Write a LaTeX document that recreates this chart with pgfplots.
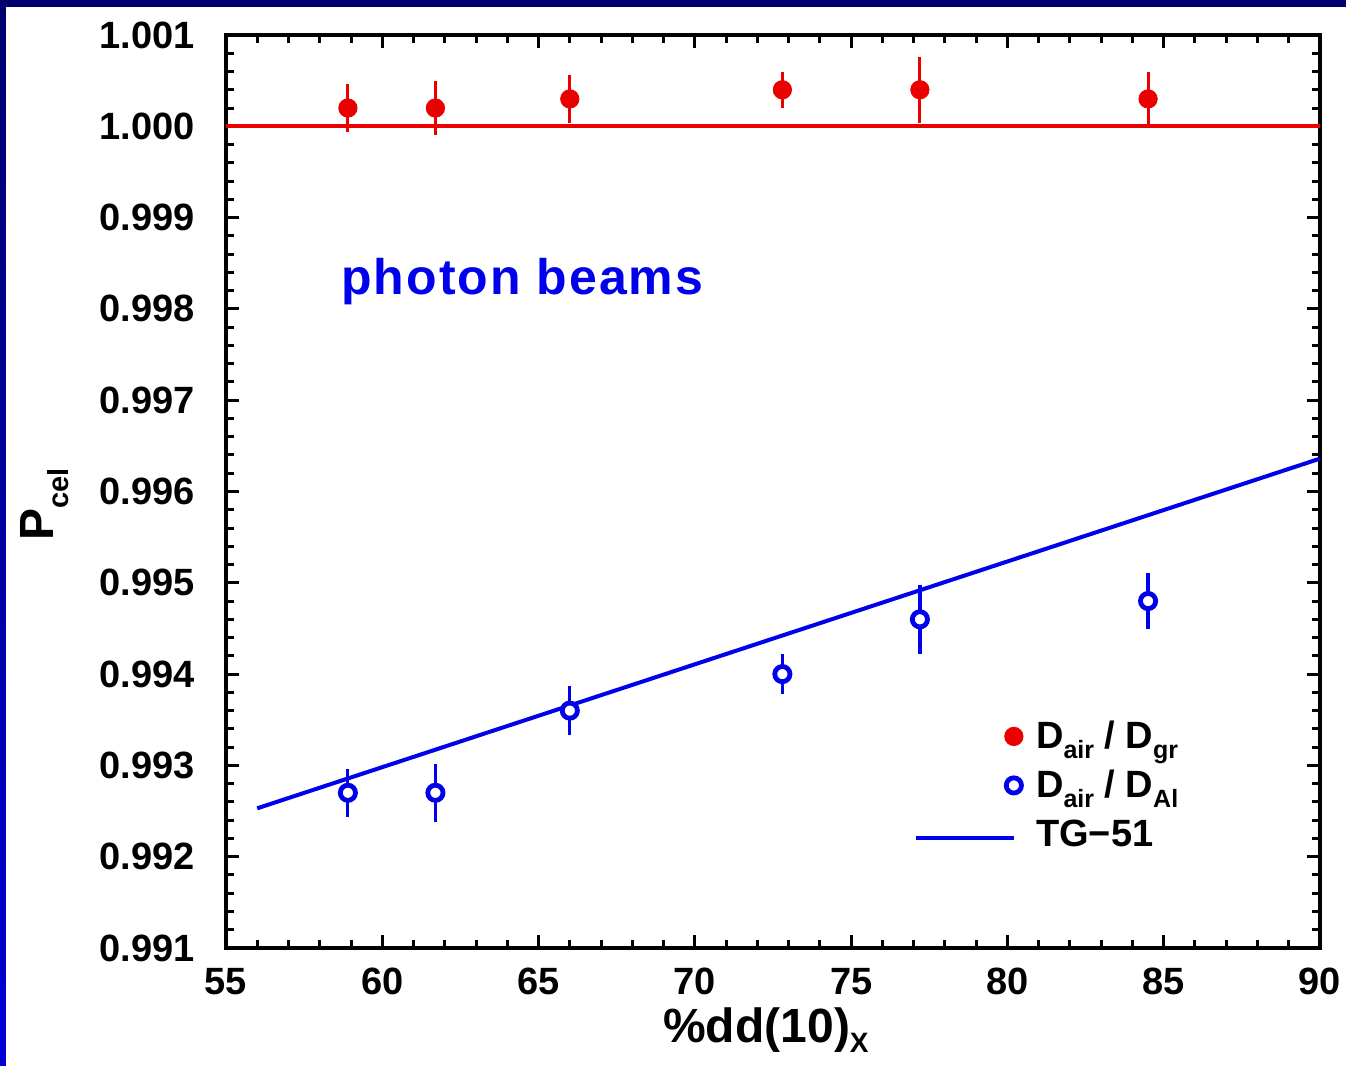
\documentclass[border=0pt]{standalone}
\usepackage{fontspec}
\setmainfont{Liberation Sans}
\usepackage{pgfplots}
\usepackage{pgfplotstable}
\pgfplotsset{compat=1.18}

\definecolor{bnavy}{RGB}{0,0,110}
\definecolor{bblue}{RGB}{0,0,215}
\definecolor{pred}{RGB}{235,0,0}
\definecolor{pblue}{RGB}{0,0,235}

\newcommand{\sub}[3]{\raisebox{-#1}{\fontsize{#2}{#2}\selectfont #3}}

\pgfplotsset{
  markleg/.style={legend image code/.code={\draw[##1] plot coordinates {(49pt,2pt)};}},
  lineleg/.style={legend image code/.code={\draw[##1] (0pt,0pt) -- (49pt,0pt);}},
}

\pgfplotstableread{
x y e
58.9 1.0002 0.00026
61.7 1.0002 0.00030
66.0 1.0003 0.00026
72.8 1.0004 0.00020
77.2 1.0004 0.00036
84.5 1.0003 0.00029
}\gr

\pgfplotstableread{
x y e
58.9 0.9927 0.00026
61.7 0.9927 0.00032
66.0 0.9936 0.00027
72.8 0.9940 0.00022
77.2 0.9946 0.00038
84.5 0.9948 0.00031
}\al

\begin{document}
\begin{tikzpicture}
\path[use as bounding box] (-113pt,-59pt) rectangle (560pt,474pt);
\fill[bnavy] (-113pt,-59pt) rectangle (560pt,474pt);
\shade[top color=bnavy,bottom color=bblue] (-113pt,-59pt) rectangle (-110pt,470.5pt);
\fill[white] (-110pt,-59pt) rectangle (560pt,470.5pt);
\begin{axis}[
  at={(0pt,0pt)}, anchor=south west,
  scale only axis, width=547pt, height=456.5pt,
  xmin=55, xmax=90, ymin=0.991, ymax=1.001,
  xtick={55,60,65,70,75,80,85,90},
  ytick={0.991,0.992,0.993,0.994,0.995,0.996,0.997,0.998,0.999,1.000,1.001},
  minor x tick num=4, minor y tick num=4,
  scaled y ticks=false,
  tick align=inside,
  major tick length=6.5pt, minor tick length=4pt,
  every tick/.style={black, line width=1.5pt},
  axis line style={line width=2pt},
  tick label style={font=\fontsize{19}{22}\selectfont\bfseries},
  /pgf/number format/assume math mode=true,
  yticklabel style={/pgf/number format/fixed, /pgf/number format/fixed zerofill, /pgf/number format/precision=3, anchor=east, inner sep=0pt, xshift=-15.5pt},
  xticklabel style={anchor=base, inner sep=0pt, yshift=-23.5pt},
  xlabel={\%dd(10)\sub{5pt}{14}{X}},
  xlabel style={font=\fontsize{24}{28}\selectfont\bfseries, at={(axis description cs:0.5,0)}, anchor=base, inner sep=0pt, yshift=-47.5pt, xshift=-3.5pt},
  ylabel={P\sub{7.5pt}{14.5}{cel}},
  ylabel style={font=\fontsize{24}{28}\selectfont\bfseries, at={(axis description cs:-0.1581,0.486)}, anchor=base, inner sep=0pt},
  legend style={at={(rel axis cs:0.6284,0.2497)}, anchor=north west, draw=none, fill=none, inner sep=0pt,
    font=\fontsize{19}{22}\selectfont\bfseries, row sep=4.5pt, column sep=6.5pt,
    nodes={inner sep=0pt, text height=14pt, text depth=6pt}},
  legend cell align=left,
]
\addplot[pred, line width=2.2pt, forget plot] coordinates {(55,1.0) (90,1.0)};
\addplot[pblue, line width=2pt, forget plot] coordinates {(56,0.99253) (90,0.99636)};

\addplot[pred, only marks, mark=*, mark size=4.6pt, mark options={fill=pred, draw=pred}, markleg,
  error bars/.cd, y dir=both, y explicit, error mark=none,
  error bar style={line width=1.5pt, pred}]
  table[x=x, y=y, y error=e] {\gr};
\addlegendentry{D\sub{5pt}{12.5}{air} / D\sub{5pt}{12.5}{gr}}

\addplot[pblue, only marks, mark=*, mark size=3.8pt, mark options={fill=white, draw=pblue, line width=2.4pt}, markleg,
  error bars/.cd, y dir=both, y explicit, error mark=none,
  error bar style={line width=1.6pt, pblue}]
  table[x=x, y=y, y error=e] {\al};
\addlegendentry{D\sub{5pt}{12.5}{air} / D\sub{5pt}{12.5}{Al}}

\addlegendimage{pblue, line width=2pt, lineleg}
\addlegendentry{TG\char"2212 51}

\node[anchor=base west, inner sep=0pt, font=\fontsize{25}{30}\selectfont\bfseries\addfontfeatures{LetterSpace=4}, text=pblue] at (axis cs:58.68,0.998155) {photon beams};
\end{axis}
\end{tikzpicture}
\end{document}
